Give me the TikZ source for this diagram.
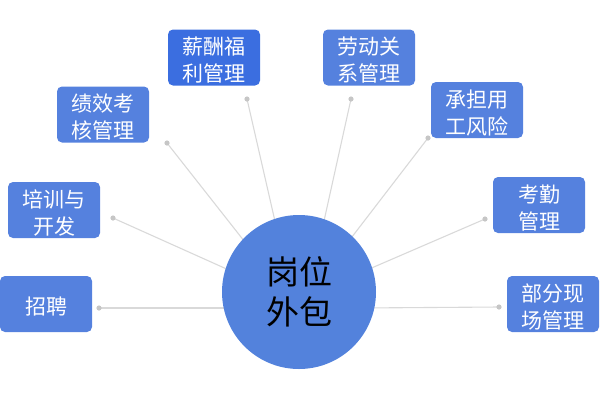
\documentclass[tikz,border=0pt]{standalone}
\usepackage{fontspec}
\setmainfont{Noto Sans CJK SC}
\definecolor{boxblue}{HTML}{5581DE}
\definecolor{darkblue}{HTML}{3B6EE0}
\definecolor{hubblue}{HTML}{5382DC}
\definecolor{linegray}{HTML}{D9D9D9}
\definecolor{dotgray}{HTML}{C6C6C6}
\tikzset{
  topic/.style={rectangle, rounded corners=5pt, fill=boxblue,
    minimum width=92pt, minimum height=56pt, inner sep=0pt,
    label={[topictext]center:{#1}}},
  topictext/.style={text=white, align=center, inner sep=0pt, yshift=-3pt,
    font=\fontsize{21}{27}\selectfont},
  hub/.style={circle, fill=hubblue, text=black, minimum size=154pt, inner sep=0pt,
    align=center, font=\fontsize{33}{40}\selectfont},
  spoke/.style={draw=linegray, line width=1.1pt},
  dot/.style={fill=dotgray}
}
\begin{document}
\begin{tikzpicture}[x=1pt,y=-1pt]
\useasboundingbox (0,0) rectangle (600,400);
% boxes
\node[topic={招聘}] (zp) at (46,304) {};
\node[topic={培训与\\开发}] (px) at (54,210) {};
\node[topic={绩效考\\核管理}] (jx) at (103,114.5) {};
\node[topic={薪酬福\\利管理}, fill=darkblue] (xc) at (214,57.5) {};
\node[topic={劳动关\\系管理}] (ld) at (369,57.5) {};
\node[topic={承担用\\工风险}] (cd) at (477,110) {};
\node[topic={考勤\\管理}] (kq) at (539,205) {};
\node[topic={部分现\\场管理}] (bf) at (553,304) {};
% dots
\coordinate (d1) at (99,308);
\coordinate (d2) at (113,218);
\coordinate (d3) at (167,143);
\coordinate (d4) at (247,99);
\coordinate (d5) at (351,99);
\coordinate (d6) at (428,138);
\coordinate (d7) at (485,219);
\coordinate (d8) at (499,307);
% spoke ends
\coordinate (e1) at (240,308);
\coordinate (e2) at (240,275);
\coordinate (e3) at (252,251);
\coordinate (e4) at (277,230);
\coordinate (e5) at (322,230);
\coordinate (e6) at (345,246);
\coordinate (e7) at (360,273);
\coordinate (e8) at (360,308);
\foreach \i in {1,...,8} {
  \draw[spoke] (d\i) -- (e\i);
  \fill[dot] (d\i) circle (2.6pt);
}
\node[hub] (hub) at (299,292) {岗位\\外包};
\end{tikzpicture}
\end{document}
